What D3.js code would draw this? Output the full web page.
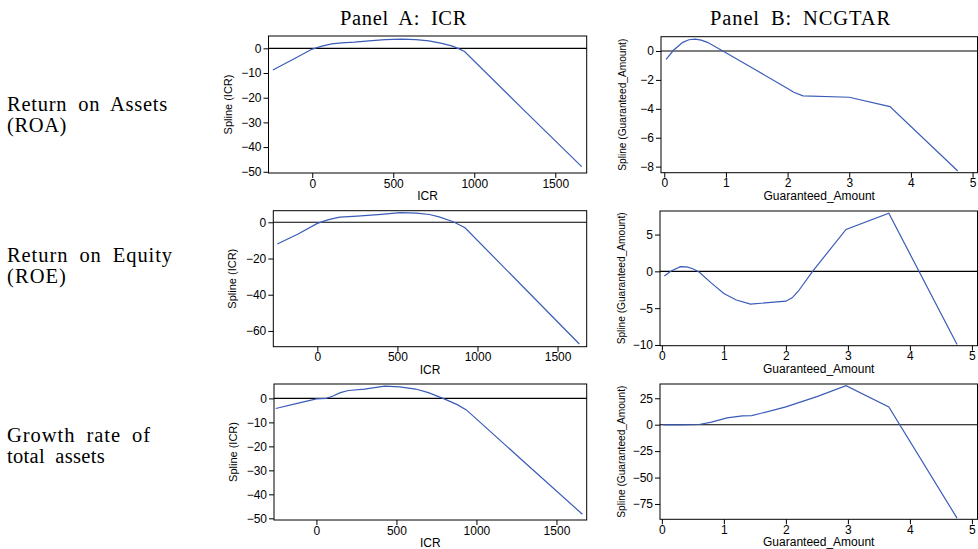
<!DOCTYPE html>
<html>
<head>
<meta charset="utf-8">
<script src="https://cdn.jsdelivr.net/npm/d3@7"></script>
<style>
  html, body { margin: 0; padding: 0; background: #fff; }
  svg { display: block; }
  .tick text { font-family: "Liberation Sans", Arial, sans-serif; font-size: 12px; fill: #000; }
  .tick line { stroke: #000; }
</style>
</head>
<body>
<svg id="chart" width="978" height="549"></svg>
<script>
// spline estimates, [x, fitted value]
const roaIcr = [[-243,-8.8],[-120,-4.5],[0,-0.3],[60,0.9],[120,1.8],[180,2.2],[260,2.5],[350,3.0],[450,3.5],[550,3.7],[640,3.5],[720,3.0],[800,2.0],[860,1.0],[900,0.0],[940,-1.3],[1300,-24.6],[1663,-47.9]];
const roeIcr = [[-250,-12.0],[-120,-6.5],[0,-0.6],[70,1.5],[140,2.8],[250,3.4],[400,4.4],[516,5.3],[620,5.1],[700,4.3],[760,3.0],[849,0.3],[922,-3.0],[1280,-35.2],[1636,-67.2]];
const growthIcr = [[-254,-4.2],[-120,-2.1],[0,-0.2],[60,0.0],[100,0.9],[150,2.4],[200,3.3],[300,3.9],[427,5.1],[520,4.8],[620,3.9],[700,2.4],[791,0.0],[880,-2.6],[937,-4.8],[1300,-26.6],[1662,-48.3]];
const roaGuar = [[0.03,-0.58],[0.15,0.05],[0.3,0.6],[0.4,0.78],[0.5,0.82],[0.6,0.75],[0.7,0.6],[0.95,0.0],[1.5,-1.35],[2.0,-2.6],[2.1,-2.85],[2.25,-3.1],[3.0,-3.2],[3.66,-3.85],[4.76,-8.3]];
const roeGuar = [[0.04,-0.64],[0.15,0.05],[0.3,0.63],[0.4,0.6],[0.5,0.35],[0.6,-0.1],[0.8,-1.6],[1.0,-3.0],[1.2,-3.9],[1.43,-4.45],[2.0,-4.05],[2.1,-3.6],[2.2,-2.7],[2.43,0],[2.97,5.7],[3.66,7.9],[4.76,-9.95]];
const growthGuar = [[0.02,-0.2],[0.3,-0.2],[0.6,0.2],[0.8,2.5],[1.05,6.5],[1.3,8.3],[1.45,8.6],[2.0,16.8],[2.5,26.5],[2.97,36.9],[3.66,16.8],[4.76,-88.4]];

const icrTicks = [0, 500, 1000, 1500];
const guarTicks = [0, 1, 2, 3, 4, 5];
const roaIcrYTicks = [0, -10, -20, -30, -40, -50];
const roeIcrYTicks = [0, -20, -40, -60];
const growthIcrYTicks = [0, -10, -20, -30, -40, -50];
const roaGuarYTicks = [0, -2, -4, -6, -8];
const roeGuarYTicks = [5, 0, -5, -10];
const growthGuarYTicks = [25, 0, -25, -50, -75];

const panelTitles = ["Panel A: ICR", "Panel B: NCGTAR"];
const rowLabels = [["Return on Assets", "(ROA)"], ["Return on Equity", "(ROE)"], ["Growth rate of", "total assets"]];

const svg = d3.select("#chart");
const lineColor = "#3a5cb8";

const panels = [
  { data: roaIcr, yTicks: roaIcrYTicks, xTicks: icrTicks, xDom: [-270, 1694], yDom: [-50.5, 5.0],
    box: { l: 268.5, r: 586.7, t: 36, b: 173 }, xLabel: "ICR", yLabel: "Spline (ICR)" },
  { data: roaGuar, yTicks: roaGuarYTicks, xTicks: guarTicks, xDom: [-0.053, 5.08], yDom: [-8.42, 0.99],
    box: { l: 661, r: 977.5, t: 36.7, b: 172.7 }, xLabel: "Guaranteed_Amount", yLabel: "Spline (Guaranteed_Amount)" },
  { data: roeIcr, yTicks: roeIcrYTicks, xTicks: icrTicks, xDom: [-275, 1682], yDom: [-68.7, 6.4],
    box: { l: 273.3, r: 586.7, t: 210.7, b: 346.7 }, xLabel: "ICR", yLabel: "Spline (ICR)" },
  { data: roeGuar, yTicks: roeGuarYTicks, xTicks: guarTicks, xDom: [-0.03, 5.09], yDom: [-10.1, 8.2],
    box: { l: 660, r: 977.5, t: 211, b: 345.7 }, xLabel: "Guaranteed_Amount", yLabel: "Spline (Guaranteed_Amount)" },
  { data: growthIcr, yTicks: growthIcrYTicks, xTicks: icrTicks, xDom: [-265, 1689], yDom: [-50.7, 6.0],
    box: { l: 274, r: 586.7, t: 384, b: 520 }, xLabel: "ICR", yLabel: "Spline (ICR)" },
  { data: growthGuar, yTicks: growthGuarYTicks, xTicks: guarTicks, xDom: [-0.03, 5.09], yDom: [-89.5, 38.5],
    box: { l: 660, r: 977.5, t: 384, b: 519.3 }, xLabel: "Guaranteed_Amount", yLabel: "Spline (Guaranteed_Amount)" }
];

panels.forEach(p => {
  const { l, r, t, b } = p.box;
  const x = d3.scaleLinear().domain(p.xDom).range([l, r]);
  const y = d3.scaleLinear().domain(p.yDom).range([b, t]);
  const g = svg.append("g");

  g.append("g")
    .attr("transform", `translate(${l},0)`)
    .call(d3.axisLeft(y).tickValues(p.yTicks).tickSize(5).tickPadding(2).tickFormat(d3.format("d")))
    .call(a => a.select(".domain").remove());

  g.append("g")
    .attr("transform", `translate(0,${b})`)
    .call(d3.axisBottom(x).tickValues(p.xTicks).tickSize(5).tickPadding(1).tickFormat(d3.format("d")))
    .call(a => a.select(".domain").remove());

  // zero reference line
  g.append("line")
    .attr("x1", l).attr("x2", r)
    .attr("y1", y(0)).attr("y2", y(0))
    .attr("stroke", "#000").attr("stroke-width", 1.1);

  g.append("path")
    .datum(p.data)
    .attr("fill", "none")
    .attr("stroke", lineColor)
    .attr("stroke-width", 1.2)
    .attr("d", d3.line().x(d => x(d[0])).y(d => y(d[1])));

  g.append("rect")
    .attr("x", l).attr("y", t)
    .attr("width", r - l).attr("height", b - t)
    .attr("fill", "none").attr("stroke", "#000").attr("stroke-width", 1);

  g.append("text")
    .attr("x", (l + r) / 2).attr("y", b + 27)
    .attr("text-anchor", "middle")
    .style("font-family", "Liberation Sans, Arial, sans-serif")
    .style("font-size", "12px")
    .text(p.xLabel);

  const isGuar = p.yLabel.length > 15;
  const ylab = g.append("text")
    .attr("transform", `translate(${l - (isGuar ? 35 : 37)},${(t + b) / 2}) rotate(-90)`)
    .attr("text-anchor", "middle")
    .style("font-family", "Liberation Sans, Arial, sans-serif")
    .style("font-size", "11px")
    .text(p.yLabel);
  if (isGuar) ylab.attr("textLength", 132).attr("lengthAdjust", "spacingAndGlyphs");
});

// serif text: a few px extra per word gap, the rest spread over the letters
function serifText(x, y, s, width) {
  const t = svg.append("text")
    .attr("x", x).attr("y", y)
    .style("font-family", "Liberation Serif, serif")
    .style("font-size", "20.5px")
    .text(s);
  const gaps = s.split(" ").length - 1;
  const natural = t.node().getComputedTextLength();
  const wordExtra = gaps > 0 ? 5 : 0;
  const ls = Math.max(0, (width - natural - gaps * wordExtra) / s.length);
  t.style("letter-spacing", ls + "px").style("word-spacing", wordExtra + "px");
  return t;
}

// column titles
const titleWidths = [127, 181];
[340, 710].forEach((x0, i) => serifText(x0, 25, panelTitles[i], titleWidths[i]));

// row labels
const rowBase = [111, 262, 442];
const rowWidths = [[161, 60], [166, 60], [144, 98]];
rowLabels.forEach((lines, i) => {
  lines.forEach((s, j) => serifText(7, rowBase[i] + j * 21, s, rowWidths[i][j]));
});
</script>
</body>
</html>
